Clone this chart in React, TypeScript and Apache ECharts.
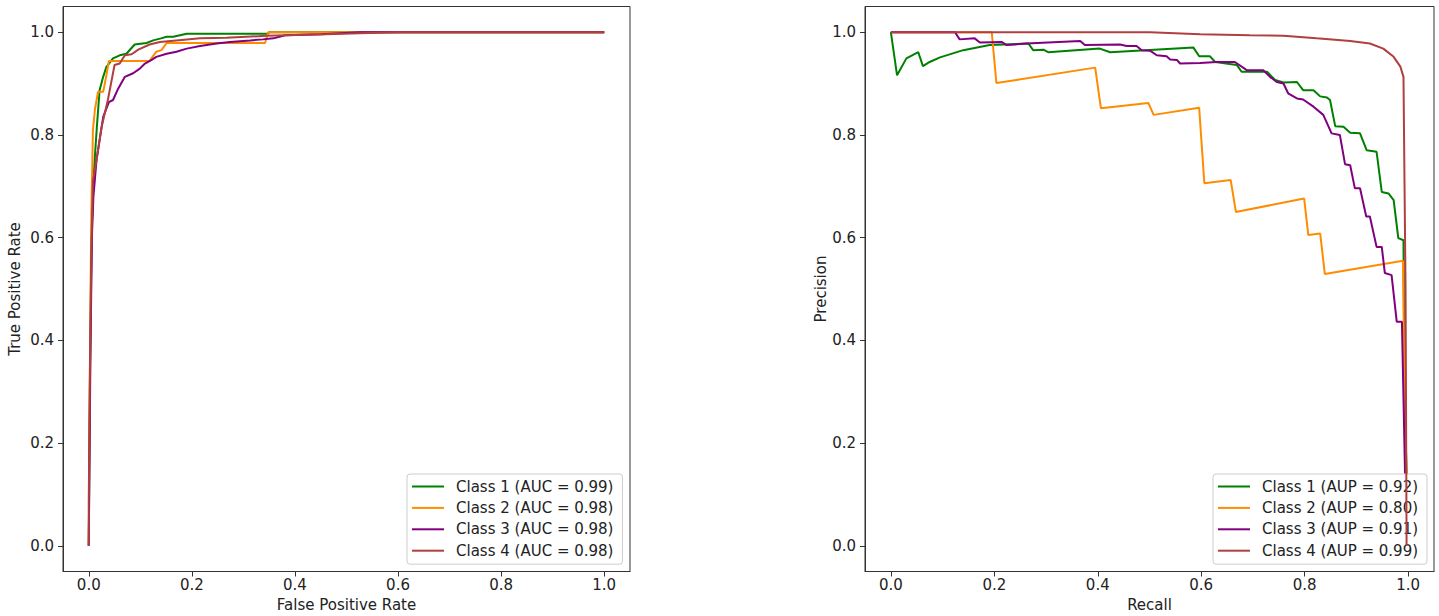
import React, { useEffect, useRef } from "react";
import * as echarts from "echarts";

const tickValues = [0, 0.2, 0.4, 0.6, 0.8, 1.0];
const classColors = ["#008000", "#FF8C00", "#800080", "#B03F3F"];
const rocNames = [
  "Class 1 (AUC = 0.99)",
  "Class 2 (AUC = 0.98)",
  "Class 3 (AUC = 0.98)",
  "Class 4 (AUC = 0.98)",
];
const prNames = [
  "Class 1 (AUP = 0.92)",
  "Class 2 (AUP = 0.80)",
  "Class 3 (AUP = 0.91)",
  "Class 4 (AUP = 0.99)",
];

// ROC curves: [false positive rate, true positive rate]
const rocClass1 = [
  [0, 0], [0.001, 0.15], [0.003, 0.4], [0.006, 0.62], [0.009, 0.71], [0.012, 0.76],
  [0.016, 0.82], [0.021, 0.887], [0.027, 0.91], [0.034, 0.932], [0.047, 0.949],
  [0.06, 0.955], [0.073, 0.958], [0.089, 0.976], [0.112, 0.979], [0.125, 0.984],
  [0.14, 0.988], [0.151, 0.991], [0.164, 0.991], [0.19, 0.997], [0.348, 0.997],
  [0.35, 1.0], [1, 1],
];
const rocClass2 = [
  [0, 0], [0.001, 0.2], [0.003, 0.45], [0.005, 0.65], [0.007, 0.751], [0.008, 0.809],
  [0.012, 0.85], [0.018, 0.884], [0.028, 0.884], [0.034, 0.915], [0.039, 0.944],
  [0.118, 0.944], [0.131, 0.962], [0.141, 0.965], [0.151, 0.979], [0.342, 0.979],
  [0.348, 1.0], [1, 1],
];
const rocClass3 = [
  [0, 0], [0.001, 0.12], [0.003, 0.35], [0.006, 0.6], [0.009, 0.68], [0.015, 0.751],
  [0.021, 0.79], [0.028, 0.835], [0.039, 0.864], [0.047, 0.868], [0.057, 0.89],
  [0.07, 0.913], [0.086, 0.92], [0.099, 0.929], [0.109, 0.939], [0.122, 0.946],
  [0.131, 0.952], [0.151, 0.958], [0.17, 0.962], [0.19, 0.968], [0.216, 0.973],
  [0.248, 0.978], [0.274, 0.981], [0.313, 0.984], [0.338, 0.986], [0.358, 0.988],
  [0.381, 0.994], [0.45, 0.996], [0.526, 1.0], [1, 1],
];
const rocClass4 = [
  [0, 0], [0, 0.09], [0.002, 0.32], [0.005, 0.58], [0.008, 0.71], [0.015, 0.751],
  [0.025, 0.816], [0.037, 0.868], [0.05, 0.936], [0.06, 0.939], [0.07, 0.955],
  [0.083, 0.957], [0.096, 0.966], [0.118, 0.976], [0.138, 0.981], [0.17, 0.984],
  [0.216, 0.988], [0.267, 0.989], [0.345, 0.993], [0.46, 0.996], [0.526, 0.998],
  [0.6, 1.0], [1, 1],
];

// Precision-recall curves: [recall, precision]
const prClass1 = [
  [0, 1.0], [0.012, 0.916], [0.03, 0.949], [0.053, 0.961], [0.062, 0.934],
  [0.075, 0.942], [0.095, 0.951], [0.14, 0.965], [0.191, 0.975], [0.266, 0.978],
  [0.275, 0.965], [0.295, 0.966], [0.304, 0.961], [0.404, 0.968], [0.424, 0.961],
  [0.585, 0.97], [0.596, 0.953], [0.617, 0.953], [0.627, 0.942], [0.669, 0.936],
  [0.678, 0.923], [0.727, 0.923], [0.743, 0.907], [0.759, 0.902], [0.785, 0.903],
  [0.797, 0.887], [0.817, 0.887], [0.83, 0.875], [0.843, 0.873], [0.849, 0.868],
  [0.859, 0.817], [0.875, 0.816], [0.888, 0.804], [0.907, 0.803], [0.92, 0.77],
  [0.939, 0.767], [0.949, 0.689], [0.962, 0.686], [0.972, 0.673], [0.981, 0.599],
  [0.991, 0.595], [0.993, 0.3], [0.997, 0.14],
];
const prClass2 = [
  [0, 1.0], [0.195, 1.0], [0.204, 0.901], [0.395, 0.931], [0.406, 0.852],
  [0.498, 0.862], [0.508, 0.839], [0.596, 0.853], [0.606, 0.706], [0.657, 0.712],
  [0.667, 0.65], [0.799, 0.676], [0.807, 0.605], [0.83, 0.608], [0.839, 0.529],
  [0.99, 0.555], [0.993, 0.3], [0.997, 0.14],
];
const prClass3 = [
  [0, 1.0], [0.124, 1.0], [0.133, 0.986], [0.162, 0.988], [0.172, 0.98],
  [0.214, 0.981], [0.224, 0.975], [0.262, 0.978], [0.366, 0.983], [0.375, 0.975],
  [0.443, 0.976], [0.456, 0.973], [0.475, 0.973], [0.485, 0.965], [0.501, 0.964],
  [0.514, 0.955], [0.533, 0.953], [0.54, 0.947], [0.553, 0.946], [0.559, 0.939],
  [0.598, 0.94], [0.63, 0.942], [0.665, 0.942], [0.688, 0.926], [0.72, 0.926],
  [0.733, 0.913], [0.746, 0.903], [0.759, 0.9], [0.768, 0.881], [0.785, 0.871],
  [0.797, 0.869], [0.817, 0.855], [0.836, 0.839], [0.852, 0.803], [0.868, 0.8],
  [0.878, 0.743], [0.888, 0.741], [0.897, 0.696], [0.907, 0.696], [0.919, 0.641],
  [0.926, 0.641], [0.939, 0.582], [0.949, 0.582], [0.955, 0.531], [0.968, 0.527],
  [0.978, 0.436], [0.988, 0.436], [0.994, 0.141],
];
const prClass4 = [
  [0, 1.0], [0.501, 1.0], [0.598, 0.996], [0.694, 0.994], [0.759, 0.993],
  [0.823, 0.988], [0.888, 0.983], [0.926, 0.978], [0.952, 0.968], [0.972, 0.952],
  [0.985, 0.933], [0.991, 0.913], [0.995, 0.5], [0.997, 0.0],
];

const rocData = [rocClass1, rocClass2, rocClass3, rocClass4];
const prData = [prClass1, prClass2, prClass3, prClass4];

const FONT = "DejaVu Sans";
const FS = 15;
const TEXT = "#222";
const SPINE = "#333";

function axisCommon(gridIndex: number, name: string, nameGap: number, labelMargin: number) {
  return {
    type: "value",
    gridIndex,
    min: -0.05,
    max: 1.05,
    name,
    nameLocation: "middle",
    nameGap,
    nameTextStyle: { fontFamily: FONT, fontSize: FS, color: TEXT },
    axisLine: { show: true, onZero: false, lineStyle: { color: SPINE, width: 1 } },
    splitLine: { show: false },
    axisTick: {
      show: true,
      inside: false,
      length: 5,
      lineStyle: { color: SPINE, width: 1 },
      customValues: tickValues,
    },
    axisLabel: {
      show: true,
      margin: labelMargin,
      fontFamily: FONT,
      fontSize: FS,
      color: TEXT,
      customValues: tickValues,
      formatter: (v: number) => v.toFixed(1),
    },
  };
}

function makeLegend(names: string[], left: number) {
  return {
    data: names,
    orient: "vertical",
    left,
    top: 474,
    padding: [5, 9, 6, 5],
    itemGap: 6.4,
    itemWidth: 32,
    itemHeight: 2,
    icon: "rect",
    selectedMode: false,
    backgroundColor: "rgba(255,255,255,0.8)",
    borderColor: "#cccccc",
    borderWidth: 1,
    borderRadius: 3,
    textStyle: {
      fontFamily: FONT,
      fontSize: FS,
      color: TEXT,
      lineHeight: 15,
      padding: [0, 0, 0, 7],
    },
  };
}

function makeSeries(names: string[], data: number[][][], axisIndex: number) {
  return names.map((name, i) => ({
    name,
    type: "line",
    xAxisIndex: axisIndex,
    yAxisIndex: axisIndex,
    data: data[i],
    symbol: "none",
    showSymbol: false,
    lineStyle: { color: classColors[i], width: 2 },
    itemStyle: { color: classColors[i] },
    z: 2 + i,
  }));
}

const option = {
  animation: false,
  backgroundColor: "#ffffff",
  grid: [
    {
      left: 63,
      top: 6.5,
      width: 567,
      height: 565,
      show: true,
      borderColor: SPINE,
      borderWidth: 1,
      backgroundColor: "transparent",
      containLabel: false,
      outerBoundsMode: "none",
    },
    {
      left: 865,
      top: 6.5,
      width: 569,
      height: 565,
      show: true,
      borderColor: SPINE,
      borderWidth: 1,
      backgroundColor: "transparent",
      containLabel: false,
      outerBoundsMode: "none",
    },
  ],
  xAxis: [
    axisCommon(0, "False Positive Rate", 22, 6),
    axisCommon(1, "Recall", 22, 6),
  ],
  yAxis: [
    axisCommon(0, "True Positive Rate", 41, 9),
    axisCommon(1, "Precision", 37, 9),
  ],
  legend: [makeLegend(rocNames, 407), makeLegend(prNames, 1213)],
  series: [...makeSeries(rocNames, rocData, 0), ...makeSeries(prNames, prData, 1)],
};

export default function App() {
  const ref = useRef<HTMLDivElement>(null);
  useEffect(() => {
    document.body.style.margin = "0";
    if (!ref.current) return;
    const chart = echarts.init(ref.current, null, { renderer: "svg" });
    chart.setOption(option as any);
    return () => chart.dispose();
  }, []);
  return <div ref={ref} style={{ width: 1439, height: 616 }} />;
}
